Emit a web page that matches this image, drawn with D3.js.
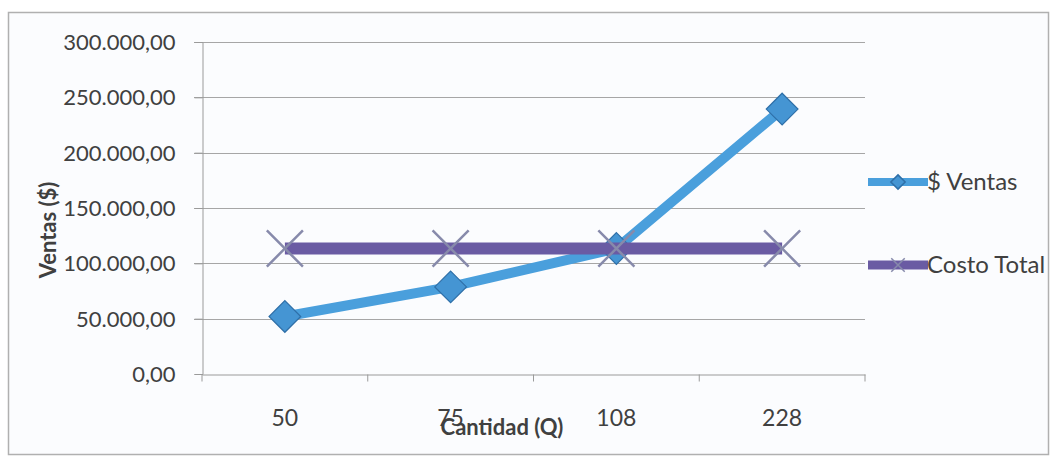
<!DOCTYPE html>
<html>
<head>
<meta charset="utf-8">
<script src="https://cdn.jsdelivr.net/npm/d3@7"></script>
<style>
  body { margin: 0; background: #fff; }
  text { font-family: Lato, "Open Sans", sans-serif; fill: #404040; }
</style>
</head>
<body>
<div id="screen"></div>
<script>
// data
const cantidades = ["50", "75", "108", "228"];
const ventas = [52000, 78700, 113400, 239400];
const costoTotal = [113400, 113400, 113400, 113400];
const yTicks = [0, 50000, 100000, 150000, 200000, 250000, 300000];

const W = 1056, H = 462;
const plotLeft = 202, plotRight = 865, plotTop = 42, plotBottom = 374;

const svg = d3.select("#screen").append("svg")
  .attr("width", W).attr("height", H);

svg.append("rect")
  .attr("x", 8.5).attr("y", 12.5).attr("width", 1040).attr("height", 442)
  .attr("fill", "#fbfcfe").attr("stroke", "#b0b0b0").attr("stroke-width", 1.5);

const x = d3.scaleBand().domain(cantidades).range([plotLeft, plotRight]);
const y = d3.scaleLinear().domain([0, 300000]).range([plotBottom, plotTop]);

const fmt = v => d3.format(",.2f")(v).replace(/,/g, "#").replace(".", ",").replace(/#/g, ".");

// gridlines
svg.append("g").selectAll("line")
  .data(yTicks.filter(d => d > 0))
  .enter().append("line")
  .attr("x1", plotLeft - 8).attr("x2", plotRight)
  .attr("y1", d => Math.round(y(d)) + 0.5).attr("y2", d => Math.round(y(d)) + 0.5)
  .attr("stroke", "#a6a6a6").attr("stroke-width", 1.2);

// y axis
const yAxis = svg.append("g")
  .attr("transform", `translate(${plotLeft + 0.5},0)`)
  .call(d3.axisLeft(y).tickValues(yTicks).tickFormat(fmt).tickSize(8).tickPadding(19));
yAxis.select(".domain").attr("stroke", "#9a9a9a");
yAxis.selectAll(".tick line").attr("stroke", "#9a9a9a");
yAxis.selectAll("text").style("font-size", "22px").attr("fill", "#404040").attr("dy", "0.34em");

// x axis
const xAxis = svg.append("g")
  .attr("transform", `translate(0,${plotBottom + 0.5})`)
  .call(d3.axisBottom(x).tickSize(0).tickPadding(35));
xAxis.select(".domain").attr("stroke", "#9a9a9a");
xAxis.selectAll("text").style("font-size", "23px").attr("fill", "#404040");
xAxis.selectAll(".bound").data(cantidades.concat(["end"]))
  .enter().append("line")
  .attr("x1", (d, i) => plotLeft + i * x.step()).attr("x2", (d, i) => plotLeft + i * x.step())
  .attr("y1", 0).attr("y2", 7).attr("stroke", "#9a9a9a");

// axis titles
svg.append("text")
  .attr("transform", "translate(56,230) rotate(-90)")
  .attr("text-anchor", "middle")
  .style("font-size", "22px").style("font-weight", "bold")
  .text("Ventas ($)");
svg.append("text")
  .attr("x", 502).attr("y", 435)
  .attr("text-anchor", "middle")
  .style("font-size", "22px").style("font-weight", "bold")
  .text("Cantidad (Q)");

const cx = (d, i) => x(cantidades[i]) + x.bandwidth() / 2;
const line = d3.line().x(cx).y(d => y(d));

const diamond = d3.symbol().type(d3.symbolDiamond2);
const cross = d3.symbol().type(d3.symbolX);

// $ Ventas
svg.append("path").datum(ventas)
  .attr("d", line).attr("fill", "none")
  .attr("stroke", "#4a9fdc").attr("stroke-width", 10).attr("stroke-linejoin", "round");
svg.append("g").selectAll("path").data(ventas).enter().append("path")
  .attr("d", diamond.size(640)())
  .attr("transform", (d, i) => `translate(${cx(d, i)},${y(d)})`)
  .attr("fill", "#4595d3").attr("stroke", "#2e6fa8").attr("stroke-width", 1.2);

// Costo Total
svg.append("path").datum(costoTotal)
  .attr("d", line).attr("fill", "none")
  .attr("stroke", "#6a5ba3").attr("stroke-width", 12);
svg.append("g").selectAll("path").data(costoTotal).enter().append("path")
  .attr("d", cross.size(850)())
  .attr("transform", (d, i) => `translate(${cx(d, i)},${y(d)})`)
  .attr("fill", "none").attr("stroke", "#878aab").attr("stroke-width", 2.5);

// legend
const legend = [
  { name: "$ Ventas", color: "#4a9fdc", w: 8, sym: diamond.size(130)(), mfill: "#4595d3", mstroke: "#2e6fa8", ly: 182 },
  { name: "Costo Total", color: "#6a5ba3", w: 9, sym: cross.size(120)(), mfill: "none", mstroke: "#878aab", ly: 265 }
];
const lg = svg.append("g").selectAll("g").data(legend).enter().append("g")
  .attr("transform", d => `translate(868,${d.ly})`);
lg.append("line").attr("x1", 0).attr("x2", 60).attr("y1", 0).attr("y2", 0)
  .attr("stroke", d => d.color).attr("stroke-width", d => d.w);
lg.append("path").attr("d", d => d.sym).attr("transform", "translate(30,0)")
  .attr("fill", d => d.mfill).attr("stroke", d => d.mstroke).attr("stroke-width", 1.5);
lg.append("text").attr("x", 59).attr("y", 8)
  .style("font-size", "24px").attr("fill", "#303030")
  .text(d => d.name);
</script>
</body>
</html>
